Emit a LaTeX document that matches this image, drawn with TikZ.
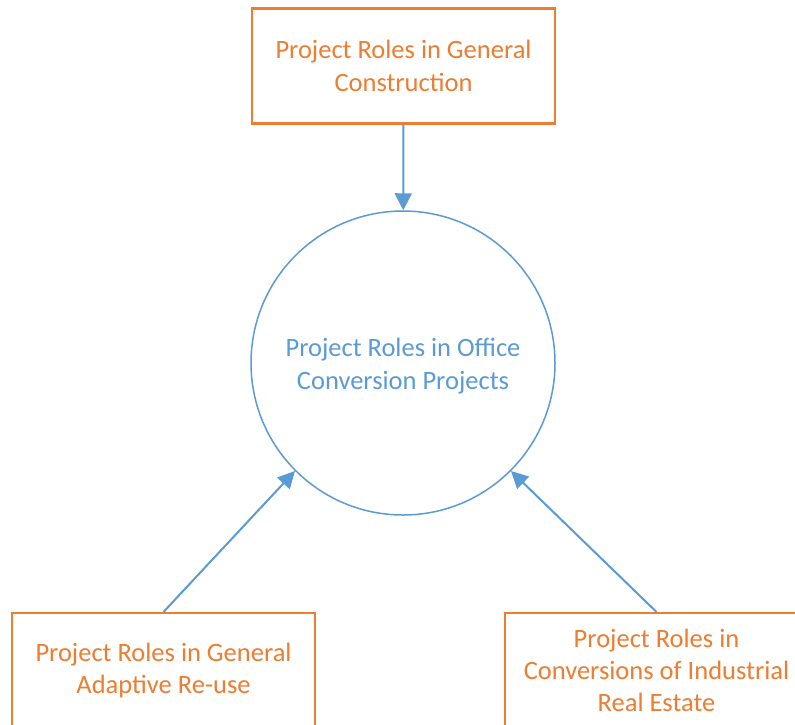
\documentclass[tikz,border=0pt]{standalone}
\usepackage{fontspec}
\setmainfont{Carlito}
\usetikzlibrary{arrows.meta}
\definecolor{roleorange}{HTML}{ED7D31}
\definecolor{roleblue}{HTML}{5B9BD5}
\begin{document}
\begin{tikzpicture}[x=1pt,y=-1pt,
  rolebox/.style={draw=roleorange, line width=2.1pt, text=roleorange,
    minimum width=303pt, minimum height=115pt, align=center, inner sep=0pt,
    font=\fontsize{26.5}{32.3}\selectfont},
  rolecircle/.style={circle, draw=roleblue, line width=1.5pt, text=roleblue,
    minimum size=304pt, align=center, inner sep=0pt,
    font=\fontsize{26.5}{32.3}\selectfont},
  feeds/.style={draw=roleblue, line width=2pt,
    -{Triangle[length=17pt, width=17pt]}}]
  \clip (0,0) rectangle (795,724);
  \fill[white] (0,0) rectangle (795,724);

  % central topic
  \node[rolecircle] (office) at (403,363) {};
  \node[text=roleblue, align=center, font=\fontsize{26.5}{32.3}\selectfont]
    (officelabel) at (403,366) {Project Roles in Office\\Conversion Projects};

  % contributing fields
  \node[rolebox] (general) at (403.5,66) {Project Roles in General\\Construction};
  \node[rolebox] (reuse) at (163.5,670.5) {Project Roles in General\\Adaptive Re-use};
  \node[rolebox] (industrial) at (656.5,670.5) {Project Roles in\\Conversions of Industrial\\Real Estate};

  % influences
  \draw[feeds] (general) -- (office);
  \draw[feeds] (reuse.north) -- (office.225);
  \draw[feeds] (industrial.north) -- (office.315);
\end{tikzpicture}
\end{document}
